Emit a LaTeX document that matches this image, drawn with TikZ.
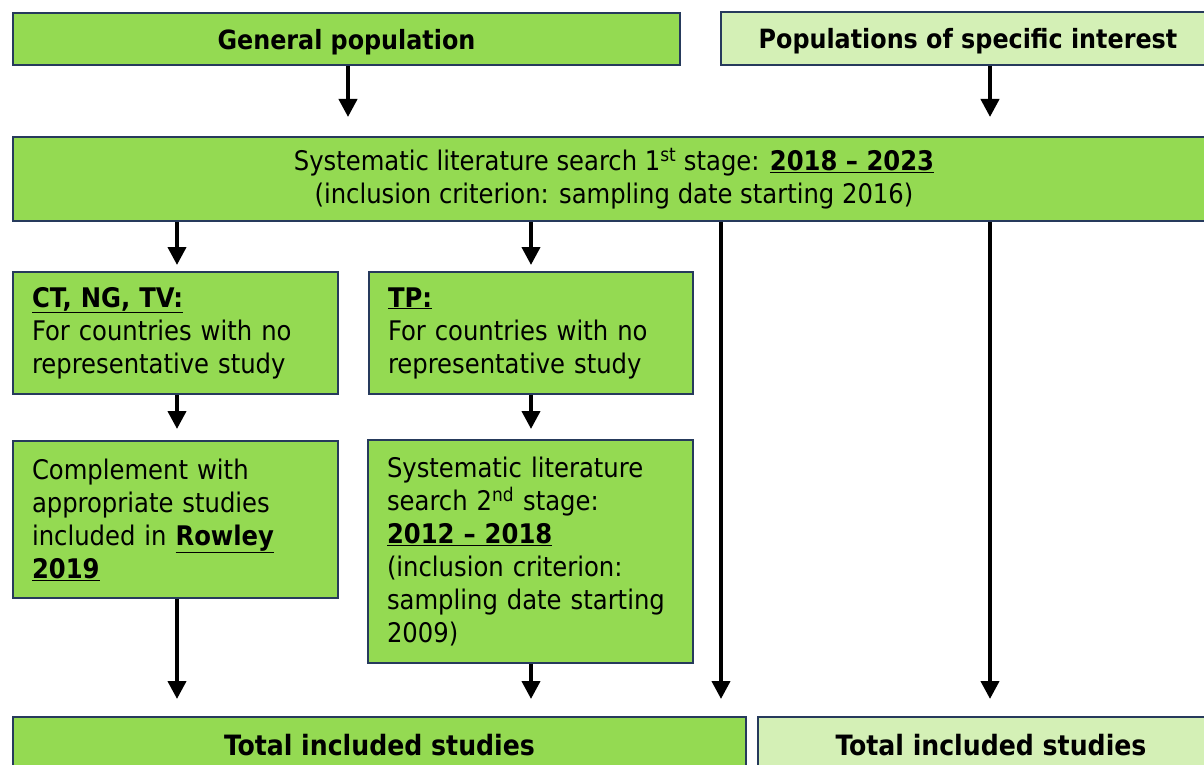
\documentclass[tikz,border=0pt]{standalone}
\usepackage{fontspec}
\setmainfont{DejaVu Sans Condensed}
\usetikzlibrary{arrows.meta}
\definecolor{gr}{RGB}{148,218,82}
\definecolor{lgr}{RGB}{212,240,182}
\definecolor{navy}{RGB}{38,58,92}
\tikzset{
  box/.style={draw=navy, line width=2pt, fill=gr, inner sep=0pt, font=\fontsize{27}{33}\selectfont},
  lbox/.style={box, fill=lgr},
  txtbox/.style={box, inner xsep=19pt, align=left},
  titlefont/.style={font=\fontsize{26.5}{33}\selectfont\bfseries, text depth=0pt},
  totfont/.style={font=\fontsize{28}{33}\selectfont\bfseries},
  arr/.style={line width=4pt, -{Triangle[length=18pt,width=18pt]}},
}
\begin{document}
\begin{tikzpicture}[x=1pt,y=-1pt]
\useasboundingbox (0,0) rectangle (1204,765);
\fill[white] (0,0) rectangle (1204,765);
% nodes
\node[box, titlefont, minimum width=667pt, minimum height=52pt] (gen) at (346.5,39) {General population};
\node[lbox, titlefont, minimum width=494pt, minimum height=53pt] (pop) at (968,38.5) {Populations of specific interest};
\node[box, minimum width=1202pt, minimum height=84pt, align=center] (big) at (614,179)
  {Systematic literature search 1\textsuperscript{st} stage: \underline{\textbf{2018 – 2023}}\\(inclusion criterion: sampling date starting 2016)};
\node[txtbox, text width=287pt, minimum height=122pt] (ct) at (175.5,333)
  {\underline{\textbf{CT, NG, TV:}}\\For countries with no\\representative study};
\node[txtbox, text width=286pt, minimum height=122pt] (tp) at (531,333)
  {\underline{\textbf{TP:}}\\For countries with no\\representative study};
\node[txtbox, text width=287pt, minimum height=157pt] (comp) at (175.5,519.5)
  {Complement with\\appropriate studies\\included in \underline{\textbf{Rowley}}\\\underline{\textbf{2019}}};
\node[txtbox, text width=287pt, minimum height=223pt] (sec) at (530.5,551.5)
  {Systematic literature\\search 2\textsuperscript{nd} stage:\\\underline{\textbf{2012 – 2018}}\\(inclusion criterion:\\sampling date starting\\2009)};
\node[box, totfont, minimum width=733pt, minimum height=56pt] (tot1) at (379.5,745) {Total included studies};
\node[lbox, totfont, minimum width=466pt, minimum height=56pt] (tot2) at (991,745) {Total included studies};
% x positions of connectors
\coordinate (xa) at (177,0);
\coordinate (xb) at (531,0);
\coordinate (xc) at (721,0);
\coordinate (xd) at (990,0);
\coordinate (xg) at (348,0);
% connectors
\draw[arr, shorten >=19pt] (gen.south -| xg) -- (big.north -| xg);
\draw[arr, shorten >=19pt] (pop.south -| xd) -- (big.north -| xd);
\draw[arr, shorten >=6pt] (big.south -| xa) -- (ct.north -| xa);
\draw[arr, shorten >=6pt] (big.south -| xb) -- (tp.north -| xb);
\draw[arr, shorten >=17pt] (big.south -| xc) -- (tot1.north -| xc);
\draw[arr, shorten >=17pt] (big.south -| xd) -- (tot2.north -| xd);
\draw[arr, shorten >=11pt] (ct.south -| xa) -- (comp.north -| xa);
\draw[arr, shorten >=10pt] (tp.south -| xb) -- (sec.north -| xb);
\draw[arr, shorten >=17pt] (comp.south -| xa) -- (tot1.north -| xa);
\draw[arr, shorten >=17pt] (sec.south -| xb) -- (tot1.north -| xb);
\end{tikzpicture}
\end{document}
